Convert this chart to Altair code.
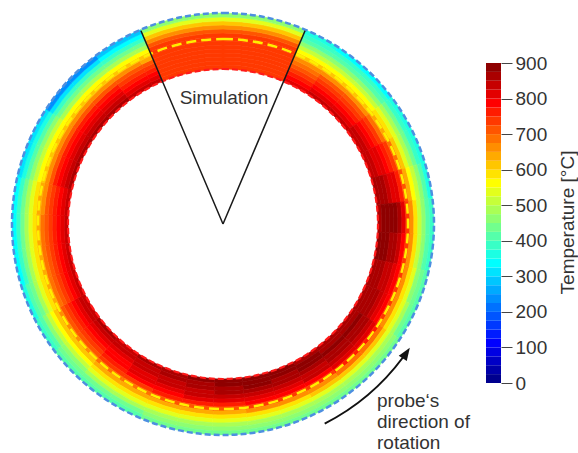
import altair as alt
import pandas as pd

# Ring geometry in pixels: centre, inner/outer wall and the probe path
CX, CY = 223, 224
R_IN, R_OUT, R_PROBE = 155, 211, 185

# Angular sectors, degrees clockwise from 12 o'clock (first one is the simulated sector)
sector_start = [-23, 23, 33, 43, 53, 63, 73, 83, 93, 103, 113, 123, 133, 143, 153, 163,
                173, 183, 193, 203, 213, 223, 233, 243, 253, 263, 273, 283, 293, 303,
                313, 323, 333]
sector_end = [23, 33, 43, 53, 63, 73, 83, 93, 103, 113, 123, 133, 143, 153, 163, 173,
              183, 193, 203, 213, 223, 233, 243, 253, 263, 273, 283, 293, 303, 313,
              323, 333, 337]

# Radial layer boundaries from the inner to the outer wall
layer_edges = [155, 159, 163, 167, 171, 175, 179, 183, 187, 191, 195, 199, 203, 207, 211]

# Temperature [°C] per sector, inner layer first
temperature = [
    [740, 740, 740, 740, 740, 740, 740, 740, 740, 700, 650, 600, 525, 450],
    [800, 775, 750, 725, 700, 675, 650, 600, 550, 500, 450, 400, 375, 350],
    [825, 800, 775, 750, 725, 700, 650, 600, 550, 500, 450, 400, 375, 325],
    [825, 800, 775, 750, 725, 700, 650, 600, 550, 500, 450, 400, 375, 325],
    [825, 825, 800, 775, 750, 725, 675, 625, 575, 525, 475, 425, 375, 350],
    [825, 825, 800, 800, 775, 750, 725, 675, 600, 525, 475, 425, 375, 350],
    [850, 850, 850, 825, 800, 800, 750, 700, 625, 550, 500, 450, 400, 350],
    [850, 875, 875, 875, 875, 850, 800, 725, 650, 575, 500, 450, 400, 375],
    [875, 875, 875, 850, 850, 825, 775, 725, 650, 575, 500, 450, 400, 375],
    [850, 850, 850, 825, 825, 800, 775, 725, 650, 575, 525, 450, 425, 400],
    [850, 850, 850, 850, 825, 800, 775, 725, 650, 575, 525, 475, 425, 400],
    [850, 850, 875, 850, 850, 825, 800, 750, 675, 600, 525, 475, 450, 425],
    [850, 850, 875, 850, 850, 825, 800, 750, 675, 600, 525, 475, 450, 425],
    [850, 875, 875, 850, 825, 825, 775, 725, 650, 600, 525, 475, 450, 425],
    [875, 875, 850, 850, 825, 800, 775, 725, 650, 575, 525, 475, 450, 425],
    [875, 875, 875, 850, 825, 800, 775, 725, 650, 575, 525, 475, 450, 425],
    [875, 875, 850, 850, 825, 800, 750, 700, 625, 575, 525, 475, 450, 425],
    [875, 850, 850, 825, 825, 800, 750, 700, 625, 575, 525, 475, 450, 425],
    [850, 850, 825, 825, 800, 775, 750, 700, 625, 575, 525, 475, 450, 425],
    [850, 825, 825, 800, 800, 775, 725, 675, 625, 575, 525, 475, 425, 400],
    [825, 825, 800, 775, 775, 750, 725, 675, 625, 575, 525, 475, 425, 400],
    [850, 825, 800, 775, 750, 725, 700, 650, 600, 550, 500, 450, 425, 400],
    [825, 825, 800, 775, 750, 725, 700, 650, 600, 550, 500, 450, 400, 375],
    [825, 800, 775, 750, 725, 700, 675, 625, 575, 525, 475, 425, 400, 350],
    [825, 800, 775, 750, 725, 700, 675, 625, 575, 525, 475, 425, 375, 325],
    [825, 800, 775, 750, 725, 700, 675, 625, 575, 525, 475, 425, 375, 325],
    [825, 800, 775, 750, 725, 700, 650, 625, 575, 525, 475, 425, 375, 325],
    [850, 825, 800, 775, 750, 700, 650, 600, 550, 500, 450, 400, 350, 300],
    [850, 825, 800, 775, 750, 700, 650, 600, 550, 500, 450, 400, 350, 300],
    [850, 825, 800, 775, 750, 700, 650, 600, 550, 475, 425, 375, 300, 225],
    [850, 825, 800, 775, 750, 700, 650, 600, 550, 475, 425, 375, 300, 225],
    [825, 800, 775, 750, 725, 700, 650, 600, 550, 475, 425, 375, 325, 275],
    [825, 800, 775, 750, 725, 700, 625, 600, 550, 475, 425, 375, 325, 275],
]

# Colour bar steps and ticks
bar_step = 25
bar_max = 900
tick_values = [0, 100, 200, 300, 400, 500, 600, 700, 800, 900]

FONT = "Liberation Sans"
TEXT = "#333333"


def jet(v):
    def c(x):
        return max(0.0, min(1.0, x))
    r = c(1.5 - abs(4 * v - 3))
    g = c(1.5 - abs(4 * v - 2))
    b = c(1.5 - abs(4 * v - 1))
    return "#%02x%02x%02x" % (round(r * 255), round(g * 255), round(b * 255))


levels = list(range(0, bar_max, bar_step))
palette = [jet((lv + bar_step / 2) / bar_max) for lv in levels]
color_scale = alt.Scale(type="threshold", domain=levels[1:], range=palette)

theta_scale = alt.Scale(type="linear", domain=[0, 360], range=[0, 6.283185307179586])
radius_scale = alt.Scale(type="linear", domain=[0, R_OUT], range=[0, R_OUT])

cells = pd.DataFrame([
    {"a0": sector_start[i], "a1": sector_end[i],
     "r0": layer_edges[j], "r1": layer_edges[j + 1], "T": temperature[i][j]}
    for i in range(len(sector_start)) for j in range(len(layer_edges) - 1)
])

centre = dict(x=alt.value(CX), y=alt.value(CY))

ring = alt.Chart(cells).mark_arc(strokeWidth=0.6).encode(
    theta=alt.Theta("a0:Q", scale=theta_scale, stack=False),
    theta2="a1:Q",
    radius=alt.Radius("r0:Q", scale=radius_scale),
    radius2="r1:Q",
    color=alt.Color("T:Q", scale=color_scale, legend=None),
    stroke=alt.Stroke("T:Q", scale=color_scale, legend=None),
    **centre,
)


def circle(r, colour, dash, width):
    df = pd.DataFrame({"a0": [0], "a1": [360], "r0": [0], "r1": [r]})
    return alt.Chart(df).mark_arc(
        fillOpacity=0, stroke=colour, strokeDash=dash, strokeWidth=width
    ).encode(
        theta=alt.Theta("a0:Q", scale=theta_scale, stack=False),
        theta2="a1:Q",
        radius=alt.Radius("r0:Q", scale=radius_scale),
        radius2="r1:Q",
        **centre,
    )


outer_wall = circle(R_OUT, "#4d8fe0", [6, 3], 2.5)
inner_wall = circle(R_IN, "#ff1a1a", [6, 3], 2.2)
probe_path = circle(R_PROBE, "#ffee00", [10, 5], 2.5)

# Boundaries of the simulated sector
edges = pd.DataFrame({"a": [-23, 23], "r0": [0, 0], "r1": [210, 210]})
sector_lines = alt.Chart(edges).mark_arc(
    fillOpacity=0, stroke="#1a1a1a", strokeWidth=1.5
).encode(
    theta=alt.Theta("a:Q", scale=theta_scale, stack=False),
    theta2="a:Q",
    radius=alt.Radius("r0:Q", scale=radius_scale),
    radius2="r1:Q",
    **centre,
)

sim_label = alt.Chart(pd.DataFrame({"t": ["Simulation"]})).mark_text(
    font=FONT, fontSize=19, color=TEXT, align="center", baseline="alphabetic"
).encode(x=alt.value(224), y=alt.value(104), text="t:N")

# Curved arrow for the probe's direction of rotation
arrow_arc = alt.Chart(pd.DataFrame({"a0": [126.5], "a1": [153], "r0": [223], "r1": [225]})).mark_arc(
    color="#111111"
).encode(
    theta=alt.Theta("a0:Q", scale=theta_scale, stack=False),
    theta2="a1:Q",
    radius=alt.Radius("r0:Q", scale=radius_scale),
    radius2="r1:Q",
    **centre,
)
arrow_head = alt.Chart(pd.DataFrame({"k": [1]})).mark_point(
    shape="M0,-1L0.6,0.6L-0.6,0.6Z", filled=True, color="#111111", opacity=1,
    size=256, angle=33.5
).encode(x=alt.value(405.4), y=alt.value(354.3))

rot_label = alt.Chart(pd.DataFrame({"t": ["probe\u2018s\ndirection of\nrotation"]})).mark_text(
    font=FONT, fontSize=19, color=TEXT, align="left", baseline="middle",
    lineBreak="\n", lineHeight=21
).encode(x=alt.value(377), y=alt.value(401), text="t:N")

bar = pd.DataFrame({"lo": levels, "hi": [lv + bar_step for lv in levels],
                    "T": [lv + bar_step / 2 for lv in levels]})
colorbar = alt.Chart(bar).mark_rect().encode(
    x=alt.value(486), x2=alt.value(501),
    y=alt.Y("lo:Q", scale=alt.Scale(domain=[0, bar_max], range=[383, 63]),
            axis=alt.Axis(orient="right", offset=-77, values=tick_values, domain=False,
                          grid=False, tickSize=11, tickColor="#444444", tickWidth=1,
                          labelFont=FONT, labelFontSize=19, labelColor=TEXT, labelPadding=3,
                          title="Temperature [°C]", titleFont=FONT, titleFontSize=19,
                          titleFontWeight="normal", titleColor=TEXT, titleAngle=270,
                          titleX=66, titleY=222, titleAlign="center",
                          titleBaseline="middle")),
    y2="hi:Q",
    color=alt.Color("T:Q", scale=color_scale, legend=None),
)

chart = alt.layer(
    ring, outer_wall, inner_wall, probe_path, sector_lines, sim_label,
    arrow_arc, arrow_head, rot_label, colorbar
).properties(
    width=578, height=453, padding=0, autosize=alt.AutoSizeParams(type="none"),
    background="white"
).configure_view(stroke=None)

chart.save("out.html", embed_options={"renderer": "svg", "actions": False})
